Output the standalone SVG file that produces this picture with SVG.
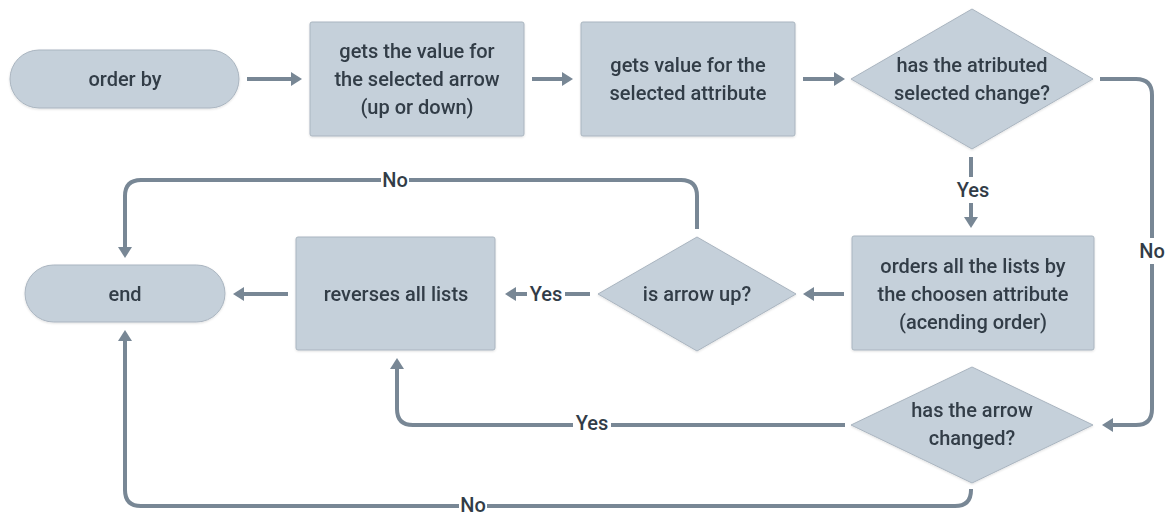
<svg xmlns="http://www.w3.org/2000/svg" width="1169" height="515" viewBox="0 0 1169 515">
  <defs>
    <style>
      .shape { fill: #c5d0da; stroke: #aab5c0; stroke-width: 1; }
      .txt { font-family: Roboto, "Liberation Sans", Arial, sans-serif; font-weight: 500; font-size: 20px; fill: #323c47; text-anchor: middle; dominant-baseline: central; }
      .edge { fill: none; stroke: #788795; stroke-width: 4; stroke-linejoin: round; }
      .arrow { marker-end: url(#head); }
      .lblbg { fill: #ffffff; }
    </style>
    <marker id="head" markerUnits="userSpaceOnUse" markerWidth="12" markerHeight="14" refX="4" refY="7" orient="auto">
      <path d="M0,0 L11,7 L0,14 Z" fill="#788795"/>
    </marker>
    <filter id="soft" x="-10%" y="-10%" width="120%" height="130%">
      <feDropShadow dx="0" dy="1" stdDeviation="1" flood-color="#000" flood-opacity="0.12"/>
    </filter>
  </defs>

  <rect width="1169" height="515" fill="#ffffff"/>

  <!-- connectors -->
  <g id="connectors">
    <path class="edge arrow" d="M247,79 H295"/>
    <path class="edge arrow" d="M532,79 H566"/>
    <path class="edge arrow" d="M803,79 H838"/>
    <path class="edge arrow" d="M1100,79 H1136 Q1152,79 1152,95 V409 Q1152,425 1136,425 H1109"/>
    <path class="edge arrow" d="M971,157 V221"/>
    <path class="edge arrow" d="M844,294 H810"/>
    <path class="edge arrow" d="M590,294 H512"/>
    <path class="edge arrow" d="M288,294 H240"/>
    <path class="edge arrow" d="M697,229 V196 Q697,180 681,180 H141 Q125,180 125,196 V251"/>
    <path class="edge arrow" d="M845,425 H413 Q397,425 397,409 V365"/>
    <path class="edge arrow" d="M971,489 V490 Q971,506 955,506 H141 Q125,506 125,490 V337"/>

    <!-- edge labels -->
    <rect class="lblbg" x="1139" y="238" width="26" height="26"/>
    <text class="txt" x="1152" y="251">No</text>
    <rect class="lblbg" x="954" y="177" width="38" height="26"/>
    <text class="txt" x="973" y="190">Yes</text>
    <rect class="lblbg" x="527" y="281" width="38" height="26"/>
    <text class="txt" x="546" y="294">Yes</text>
    <rect class="lblbg" x="381" y="167" width="28" height="26"/>
    <text class="txt" x="395" y="180">No</text>
    <rect class="lblbg" x="573" y="410" width="38" height="26"/>
    <text class="txt" x="592" y="423">Yes</text>
    <rect class="lblbg" x="459" y="494" width="28" height="21"/>
    <text class="txt" x="473" y="505">No</text>
  </g>

  <!-- nodes -->
  <g id="start" filter="url(#soft)">
    <rect class="shape" x="10" y="50" width="229" height="58" rx="29"/>
    <text class="txt" x="125" y="79">order by</text>
  </g>

  <g id="get-arrow" filter="url(#soft)">
    <rect class="shape" x="310" y="22" width="214" height="114" rx="2"/>
    <text class="txt" x="417" y="51">gets the value for</text>
    <text class="txt" x="417" y="79">the selected arrow</text>
    <text class="txt" x="417" y="107">(up or down)</text>
  </g>

  <g id="get-attribute" filter="url(#soft)">
    <rect class="shape" x="581" y="22" width="214" height="114" rx="2"/>
    <text class="txt" x="688" y="65">gets value for the</text>
    <text class="txt" x="688" y="93">selected attribute</text>
  </g>

  <g id="attr-changed" filter="url(#soft)">
    <polygon class="shape" points="972,9 1093,79 972,149 851,79"/>
    <text class="txt" x="972" y="65">has the atributed</text>
    <text class="txt" x="972" y="93">selected change?</text>
  </g>

  <g id="order-lists" filter="url(#soft)">
    <rect class="shape" x="852" y="236" width="242" height="114" rx="2"/>
    <text class="txt" x="973" y="266">orders all the lists by</text>
    <text class="txt" x="973" y="294">the choosen attribute</text>
    <text class="txt" x="973" y="322">(acending order)</text>
  </g>

  <g id="arrow-up" filter="url(#soft)">
    <polygon class="shape" points="697,237 796,294 697,351 598,294"/>
    <text class="txt" x="697" y="294">is arrow up?</text>
  </g>

  <g id="reverse" filter="url(#soft)">
    <rect class="shape" x="296" y="237" width="199" height="113" rx="2"/>
    <text class="txt" x="396" y="294">reverses all lists</text>
  </g>

  <g id="end" filter="url(#soft)">
    <rect class="shape" x="25" y="265" width="200" height="57" rx="28.5"/>
    <text class="txt" x="125" y="294">end</text>
  </g>

  <g id="arrow-changed" filter="url(#soft)">
    <polygon class="shape" points="972,367 1093,425 972,483 851,425"/>
    <text class="txt" x="972" y="410">has the arrow</text>
    <text class="txt" x="972" y="438">changed?</text>
  </g>
</svg>
